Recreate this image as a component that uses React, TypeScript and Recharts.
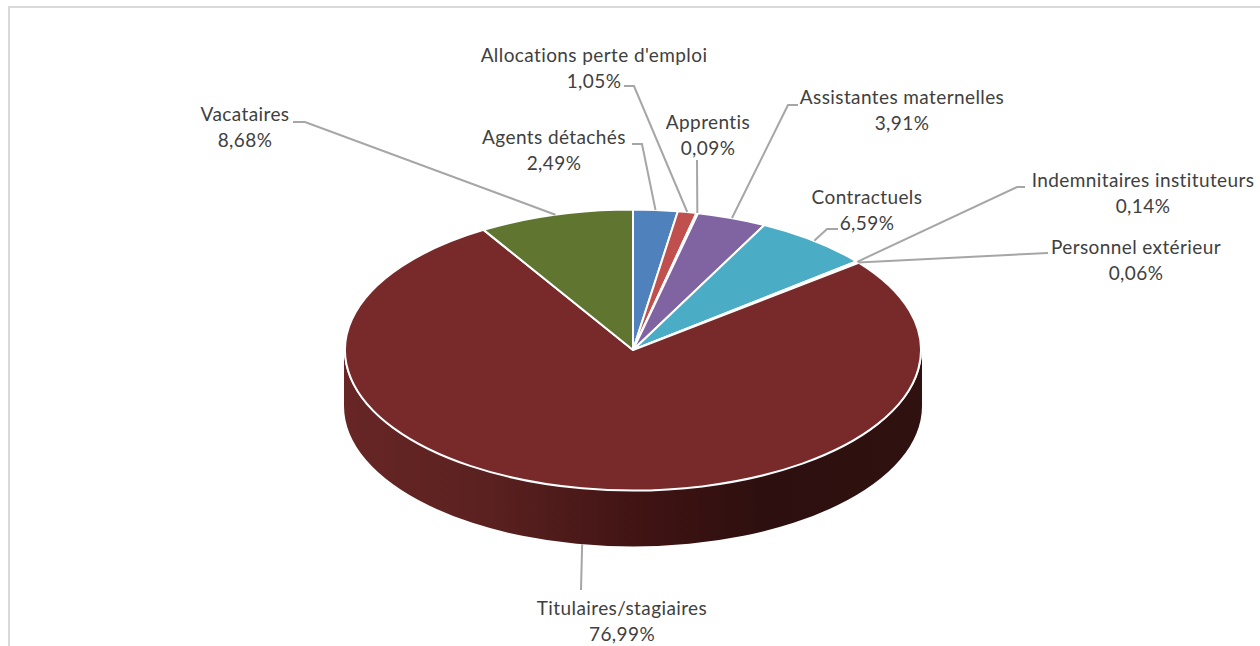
import { Pie, PieChart } from 'recharts';

const categories = [
  'Agents détachés',
  'Allocations perte d\'emploi',
  'Apprentis',
  'Assistantes maternelles',
  'Contractuels',
  'Indemnitaires instituteurs',
  'Personnel extérieur',
  'Titulaires/stagiaires',
  'Vacataires',
];
const shares = [2.49, 1.05, 0.09, 3.91, 6.59, 0.14, 0.06, 76.99, 8.68];
const colors = ['#4f81bd', '#c0504d', '#9bbb59', '#8064a2', '#4bacc6', '#f79646', '#2c4d75', '#772a29', '#5f7530'];

// label centre, first baseline, and the elbow of each leader line (first point is the label end)
const labelSpots = [
  { x: 554, y: 144, line: [[632, 144], [642, 144]] },
  { x: 594, y: 62, line: [[624, 86], [634, 86]] },
  { x: 708, y: 129, line: [[697, 160]] },
  { x: 902, y: 104, line: [[798, 105], [788, 105]] },
  { x: 867, y: 204, line: [[838, 229], [827, 229]] },
  { x: 1143, y: 187, line: [[1025, 187], [1017, 187]] },
  { x: 1136, y: 254, line: [[1048, 253]] },
  { x: 622, y: 615, line: [[581, 590]] },
  { x: 245, y: 121, line: [[293, 122], [305, 122]] },
];

const rows = categories.map((name, i) => ({ name, value: shares[i], fill: colors[i] }));

const WIDTH = 1260;
const HEIGHT = 646;
const CX = 633;
const CY = 350;
const RX = 288;
const RY = 140.5;
const DEPTH = 56;
const RAD = Math.PI / 180;

const ellipsePoint = (cx: number, cy: number, deg: number, rx = RX) => [
  cx + rx * Math.cos(deg * RAD),
  cy - RY * Math.sin(deg * RAD),
];

// Flat sector squashed into an ellipse, with the rim below it where it faces the viewer
function TiltedSector(props: any) {
  const { cx, cy, startAngle, endAngle, fill, index } = props;
  const [x0, y0] = ellipsePoint(cx, cy, startAngle);
  const [x1, y1] = ellipsePoint(cx, cy, endAngle);
  const large = Math.abs(startAngle - endAngle) > 180 ? 1 : 0;
  const top = `M${cx},${cy}L${x0},${y0}A${RX},${RY} 0 ${large} 1 ${x1},${y1}Z`;

  const rimStart = Math.min(startAngle, 0);
  const rimEnd = Math.max(endAngle, -180);
  let rim = null;
  if (rimStart > rimEnd) {
    const wallRx = RX + 1;
    const [ax, ay] = ellipsePoint(cx, cy, rimStart, wallRx);
    const [bx, by] = ellipsePoint(cx, cy, rimEnd, wallRx);
    const d = `M${ax},${ay}A${wallRx},${RY} 0 0 1 ${bx},${by}L${bx},${by + DEPTH}A${wallRx},${RY} 0 0 0 ${ax},${ay + DEPTH}Z`;
    rim = (
      <>
        <defs>
          <linearGradient id={`rim-${index}`} gradientUnits="userSpaceOnUse" x1={cx - RX} y1={0} x2={cx + RX} y2={0}>
            <stop offset="0" stopColor="#672625" />
            <stop offset="0.25" stopColor="#5a2120" />
            <stop offset="0.52" stopColor="#401313" />
            <stop offset="0.72" stopColor="#2e0f0f" />
            <stop offset="1" stopColor="#2f1110" />
          </linearGradient>
        </defs>
        <path d={d} fill={`url(#rim-${index})`} />
      </>
    );
  }

  return (
    <g>
      {rim}
      <path d={top} fill={fill} stroke="#ffffff" strokeWidth={2} strokeLinejoin="round" />
    </g>
  );
}

function SliceLabel(props: any) {
  const { index, midAngle, name, value } = props;
  const spot = labelSpots[index];
  const [ex, ey] = ellipsePoint(CX, CY, midAngle);
  // the lower half of the disc is anchored at the foot of its rim
  const anchorY = Math.sin(midAngle * RAD) < 0 ? ey + DEPTH : ey;
  const points = [...spot.line.map((p) => p.join(',')), `${ex},${anchorY}`].join(' ');
  return (
    <g>
      <polyline points={points} fill="none" stroke="#a6a6a6" strokeWidth={2} />
      <text
        x={spot.x}
        textAnchor="middle"
        fontFamily="Lato"
        fontSize={19}
        letterSpacing={0.4}
        fill="#404040"
        stroke="none"
      >
        <tspan x={spot.x} y={spot.y}>{name}</tspan>
        <tspan x={spot.x} y={spot.y + 25.5}>{value.toFixed(2).replace('.', ',')}%</tspan>
      </text>
    </g>
  );
}

export default function App() {
  return (
    <div style={{ position: 'absolute', left: 0, top: 0, width: WIDTH, height: HEIGHT, overflow: 'hidden', background: '#ffffff' }}>
      <div
        style={{
          position: 'absolute',
          left: 8,
          top: 6,
          width: 1250,
          height: 700,
          border: '2px solid #d9d9d9',
          boxSizing: 'content-box',
        }}
      />
      <div style={{ position: 'absolute', left: 0, top: 0 }}>
        <PieChart width={WIDTH} height={HEIGHT} margin={{ top: 0, right: 0, bottom: 0, left: 0 }}>
          <Pie
            data={rows}
            dataKey="value"
            nameKey="name"
            cx={CX}
            cy={CY}
            innerRadius={0}
            outerRadius={RX}
            startAngle={90}
            endAngle={-270}
            paddingAngle={0}
            shape={TiltedSector}
            label={SliceLabel}
            labelLine={false}
            isAnimationActive={false}
          />
        </PieChart>
      </div>
    </div>
  );
}
